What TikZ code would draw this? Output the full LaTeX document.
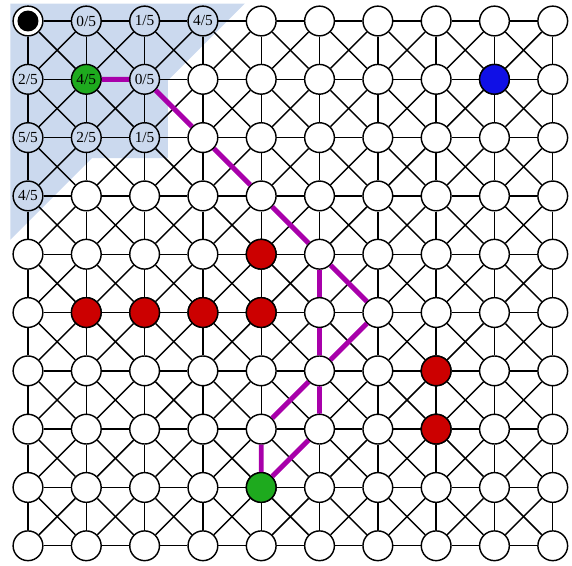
\documentclass[tikz,border=0pt]{standalone}
\usepackage{fontspec}
\setmainfont{Liberation Serif}
\usetikzlibrary{backgrounds}
\definecolor{region}{HTML}{CBD9EE}
\definecolor{start}{HTML}{1EAA1E}
\definecolor{blocked}{HTML}{CC0000}
\definecolor{goal}{HTML}{1010E6}
\definecolor{route}{HTML}{A800AA}

\begin{document}
\begin{tikzpicture}[
  x=1cm, y=-1cm,
  font=\fontsize{7.5}{9}\selectfont,
  cell/.style={draw, circle, line width=0.7pt, minimum size=5.1mm, inner sep=0pt, fill=white},
  known/.style={cell, fill=none},
  edge/.style={line width=0.7pt},
  routeline/.style={draw=route, line width=2.4pt},
]
\useasboundingbox (-0.48,-0.36) rectangle (9.33,9.33);

% plain cells (the explored corner is drawn below)
\foreach \c in {0,...,9}
  \foreach \r in {0,...,9} {
    \pgfmathtruncatemacro\inside{(\c+\r<=3) || (\c<=2 && \r<=2)}
    \ifnum\inside=0
      \node[cell] (n\c-\r) at (\c,\r) {};
    \fi
  }

% explored corner with estimates
\node[known, fill=white] (n0-0) at (0,0) {};
\node[circle, fill=black, minimum size=3.6mm, inner sep=0pt] (dot) at (n0-0) {};
\foreach \c/\r/\val in {1/0/{0/5}, 2/0/{1/5}, 3/0/{4/5}, 0/1/{2/5}, 2/1/{0/5}, 0/2/{5/5}, 1/2/{2/5}, 2/2/{1/5}, 0/3/{4/5}}
  \node[known] (n\c-\r) at (\c,\r) {\val};
\node[cell, fill=start] (n1-1) at (1,1) {4/5};

% special cells
\node[cell, fill=start] (n4-8) at (4,8) {};
\node[cell, fill=goal] (n8-1) at (8,1) {};
\foreach \c/\r in {4/4, 1/5, 2/5, 3/5, 4/5, 7/6, 7/7}
  \node[cell, fill=blocked] (n\c-\r) at (\c,\r) {};

\begin{scope}[on background layer]
  \fill[region] (-0.3,-0.3) -- (3.72,-0.3) -- (2.4,1.02) -- (2.4,2.35)
    -- (1.1,2.35) -- (-0.3,3.75) -- cycle;
  \foreach \c in {0,...,9}
    \foreach \r in {0,...,8} {
      \pgfmathtruncatemacro\rn{\r+1}
      \draw[edge] (n\c-\r) -- (n\c-\rn);
      \draw[edge] (n\r-\c) -- (n\rn-\c);
    }
  \foreach \c in {0,...,8}
    \foreach \r in {0,...,8} {
      \pgfmathtruncatemacro\cn{\c+1}
      \pgfmathtruncatemacro\rn{\r+1}
      \draw[edge] (n\c-\r) -- (n\cn-\rn);
      \draw[edge] (n\cn-\r) -- (n\c-\rn);
    }
\end{scope}

% found route
\draw[routeline] (n1-1) -- (n2-1) -- (n3-2) -- (n4-3) -- (n5-4);
\draw[routeline] (n5-4) -- (n5-5) -- (n5-6) -- (n5-7) -- (n4-8);
\draw[routeline] (n5-4) -- (n6-5) -- (n5-6) -- (n4-7) -- (n4-8);
\end{tikzpicture}
\end{document}
